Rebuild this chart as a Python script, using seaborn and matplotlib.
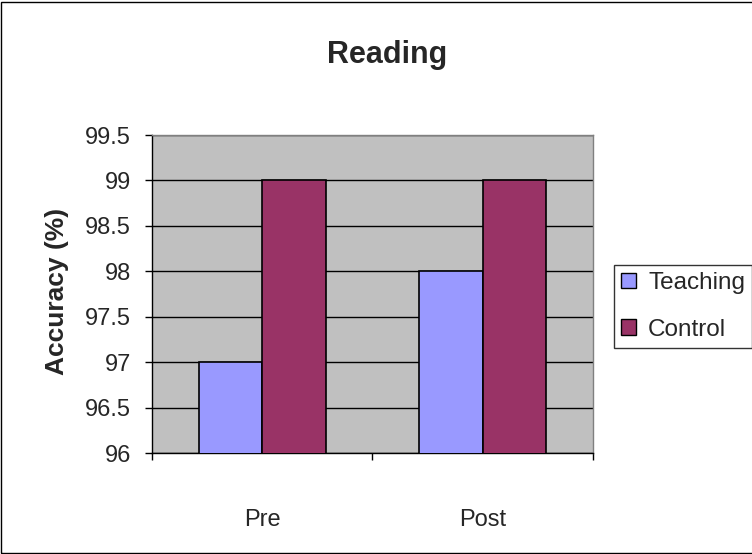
import matplotlib
matplotlib.use("Agg")
import matplotlib.pyplot as plt
import seaborn as sns
import pandas as pd
from matplotlib.patches import Rectangle, Patch

# data
phases = ["Pre", "Post"]
groups = ["Teaching", "Control"]
teaching = [97, 98]
control = [99, 99]
colors = ["#9999FF", "#993366"]
yticks = [96, 96.5, 97, 97.5, 98, 98.5, 99, 99.5]
ytick_labels = ["96", "96.5", "97", "97.5", "98", "98.5", "99", "99.5"]

df = pd.DataFrame({
    "phase": phases * 2,
    "group": [groups[0]] * 2 + [groups[1]] * 2,
    "accuracy": teaching + control,
})

sns.set_style("white")
plt.rcParams["font.family"] = ["Liberation Sans", "DejaVu Sans"]

fig = plt.figure(figsize=(7.52, 5.54), dpi=100)
ax = fig.add_axes([0.2021, 0.1823, 0.5864, 0.574])
ax.set_facecolor("#C0C0C0")

sns.barplot(data=df, x="phase", y="accuracy", hue="group", order=phases,
            hue_order=groups, palette=colors, width=0.575, gap=0,
            edgecolor="black", linewidth=1.2, saturation=1, ax=ax,
            legend=False, zorder=3)

ax.set_ylim(96, 99.5)
ax.set_yticks(yticks)
ax.set_yticklabels(ytick_labels)
ax.yaxis.grid(True, color="black", linewidth=1)
ax.set_axisbelow(True)

ax.set_xlim(-0.5, 1.5)
ax.set_xticks([-0.5, 0.5, 1.5])
ax.set_xticklabels([])
ax.set_xticks([0, 1], minor=True)
ax.set_xticklabels(phases, minor=True)
ax.tick_params(axis="x", which="major", direction="out", length=5, width=1, color="black", bottom=True)
ax.tick_params(axis="x", which="minor", length=0, pad=40, labelsize=17)
ax.tick_params(axis="y", direction="out", length=5, width=1, color="black", left=True, labelsize=17, pad=10)

for side in ["top", "right"]:
    ax.spines[side].set_color("#808080")
    ax.spines[side].set_linewidth(1)
for side in ["left", "bottom"]:
    ax.spines[side].set_color("black")
    ax.spines[side].set_linewidth(1)

ax.set_xlabel("")
ax.set_ylabel("")
fig.text(57 / 752, 1 - 291 / 554, "Accuracy (%)", rotation=90, ha="center", va="center",
         fontsize=19, fontweight="bold")
fig.text(387 / 752, 1 - 55 / 554, "Reading", ha="center", va="center", fontsize=22, fontweight="bold")

handles = [Patch(facecolor=c, edgecolor="black", linewidth=1) for c in colors]
leg = fig.legend(handles, groups, loc="upper left", bbox_to_anchor=(614 / 752, 1 - 265 / 554),
                 frameon=True, fancybox=False, fontsize=17.5, handlelength=0.6,
                 handleheight=0.6, handletextpad=0.5, borderpad=0.3,
                 labelspacing=1.0, borderaxespad=0)
leg.get_frame().set_edgecolor("black")
leg.get_frame().set_linewidth(1)

fig.patches.append(Rectangle((0.0015, 0.002), 1.2, 0.995, transform=fig.transFigure,
                             fill=False, edgecolor="black", linewidth=1, figure=fig))

fig.savefig("out.png", dpi=100)
